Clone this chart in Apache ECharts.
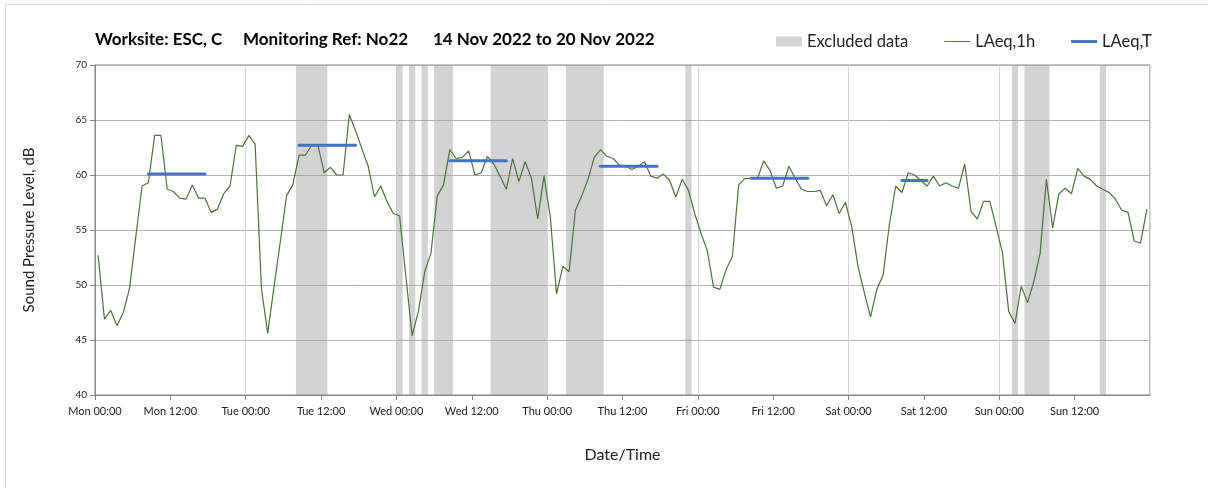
<!DOCTYPE html>
<html lang="en">
  <head>
    <meta charset="UTF-8" />
    <title>Noise monitoring N022</title>
    <script src="https://cdn.jsdelivr.net/npm/echarts@6/dist/echarts.min.js"></script>
    <style>
      html, body { margin: 0; padding: 0; background: #fff; }
    </style>
  </head>

  <body>
    <div id="main" style="width: 1208px; height: 488px"></div>

    <script type="text/javascript">
      // hourly LAeq,1h values, Mon 00:00 .. Sun 23:00 (168 hours)
      const laeq1h = [
        52.7, 46.9, 47.7, 46.3, 47.5, 49.7, 54.4, 59.0, 59.3, 63.6, 63.6, 58.7,
        58.5, 57.9, 57.8, 59.1, 57.9, 57.9, 56.6, 56.9, 58.3, 59.0, 62.7, 62.6,
        63.6, 62.8, 49.7, 45.6, 49.8, 53.9, 58.1, 59.1, 61.8, 61.8, 62.7, 62.7,
        60.2, 60.7, 60.0, 60.0, 65.5, 64.0, 62.4, 60.8, 58.0, 59.0, 57.6, 56.5,
        56.3, 50.8, 45.4, 47.6, 51.2, 52.9, 58.1, 59.1, 62.3, 61.5, 61.6, 62.2,
        60.0, 60.2, 61.7, 61.0, 59.9, 58.7, 61.5, 59.4, 61.2, 59.7, 56.0, 59.9,
        56.2, 49.2, 51.7, 51.2, 56.8, 58.1, 59.6, 61.6, 62.3, 61.7, 61.5, 60.9,
        60.8, 60.5, 60.8, 61.2, 59.9, 59.7, 60.1, 59.5, 58.0, 59.6, 58.6, 56.5,
        54.7, 53.1, 49.8, 49.6, 51.4, 52.6, 59.1, 59.7, 59.7, 59.7, 61.3, 60.4,
        58.8, 59.0, 60.8, 59.7, 58.7, 58.5, 58.5, 58.6, 57.2, 58.2, 56.5, 57.5,
        55.3, 51.7, 49.3, 47.1, 49.6, 50.9, 55.5, 59.0, 58.4, 60.2, 60.0, 59.5,
        59.0, 59.9, 59.0, 59.3, 59.0, 58.8, 61.0, 56.7, 56.0, 57.6, 57.6, 55.3,
        52.9, 47.6, 46.5, 49.9, 48.4, 50.3, 52.9, 59.6, 55.2, 58.3, 58.8, 58.3,
        60.6, 59.9, 59.6, 59.0, 58.7, 58.4, 57.8, 56.8, 56.6, 54.0, 53.8, 56.9
      ];

      // LAeq,T periods (first and last hour included)
      const periodStart = [8, 32, 56, 80, 104, 128];
      const periodEnd = [17, 41, 65, 89, 113, 132];
      const periodLevel = [60.1, 62.7, 61.3, 60.8, 59.7, 59.5];

      // excluded data, in hours from Mon 00:00
      const excludedStart = [32, 48, 50, 52, 54, 63, 75, 94, 146, 148, 160];
      const excludedEnd = [37, 49, 51, 53, 57, 72, 81, 95, 147, 152, 161];

      const dayNames = ["Mon", "Tue", "Wed", "Thu", "Fri", "Sat", "Sun"];

      const fontName = "Lato";
      const axisGrey = "#868686";

      let myChart = echarts.init(document.getElementById("main"));

      // one series per LAeq,T period so the segments stay apart
      let periodSeries = periodStart.map((s, i) => ({
        name: "LAeq,T",
        type: "line",
        symbol: "none",
        z: 4,
        itemStyle: { color: "#4472c4" },
        lineStyle: { color: "#4472c4", width: 3, cap: "round" },
        data: [
          [s + 0.5, periodLevel[i]],
          [periodEnd[i] + 0.5, periodLevel[i]],
        ],
      }));

      let options = {
        animation: false,
        textStyle: { fontFamily: fontName },
        title: {
          text: "Worksite: ESC, C     Monitoring Ref: No22      14 Nov 2022 to 20 Nov 2022",
          left: 90,
          top: 26,
          textStyle: { fontSize: 17, fontWeight: "bold", color: "#000", fontFamily: fontName },
        },
        legend: {
          left: 771,
          top: 28,
          itemWidth: 26,
          itemHeight: 10,
          itemGap: 36,
          textStyle: { fontSize: 16.5, color: "#222", fontFamily: fontName },
          data: [
            { name: "Excluded data", icon: "rect" },
            { name: "LAeq,1h", icon: "path://M0,0H27V1H0Z" },
            { name: "LAeq,T", icon: "path://M0,0H27V3H0Z" },
          ],
        },
        graphic: [
          {
            type: "rect",
            silent: true,
            z: -10,
            shape: { x: 5.5, y: 4.5, width: 1400, height: 700 },
            style: { fill: null, stroke: "#d9d9d9", lineWidth: 1 },
          },
        ],
        grid: {
          left: 95,
          right: 58,
          top: 65,
          bottom: 93,
          show: true,
          borderColor: axisGrey,
          borderWidth: 1,
        },
        xAxis: [
          {
            type: "value",
            min: 0,
            max: 168,
            interval: 12,
            name: "Date/Time",
            nameLocation: "middle",
            nameGap: 52,
            nameTextStyle: { fontSize: 16, color: "#222", fontFamily: fontName },
            axisLine: { lineStyle: { color: axisGrey } },
            axisTick: { length: 5, lineStyle: { color: axisGrey } },
            splitLine: { show: false },
            axisLabel: {
              fontSize: 11,
              color: "#222",
              margin: 11,
              showMaxLabel: false,
              formatter: (v) => {
                let d = dayNames[Math.floor(v / 24) % 7];
                let h = v % 24;
                return d + " " + (h < 10 ? "0" + h : h) + ":00";
              },
            },
          },
          {
            // day boundaries
            type: "value",
            min: 0,
            max: 168,
            interval: 24,
            axisLine: { show: false },
            axisTick: { show: false },
            axisLabel: { show: false },
            splitLine: { show: true, lineStyle: { color: "#d9d9d9" } },
          },
        ],
        yAxis: {
          type: "value",
          min: 40,
          max: 70,
          interval: 5,
          name: "Sound Pressure Level, dB",
          nameLocation: "middle",
          nameGap: 58,
          nameTextStyle: { fontSize: 15, color: "#222", fontFamily: fontName },
          axisLine: { show: true, lineStyle: { color: axisGrey } },
          axisTick: { show: true, length: 5, lineStyle: { color: axisGrey } },
          axisLabel: { fontSize: 10, color: "#222", margin: 8 },
          splitLine: { lineStyle: { color: "#b3b3b3" } },
        },
        series: [
          {
            name: "Excluded data",
            type: "line",
            itemStyle: { color: "#d3d3d3" },
            data: [],
            markArea: {
              silent: true,
              itemStyle: { color: "rgba(150,150,150,0.42)" },
              data: excludedStart.map((s, i) => [{ xAxis: s }, { xAxis: excludedEnd[i] }]),
            },
          },
          {
            name: "LAeq,1h",
            type: "line",
            symbol: "none",
            z: 3,
            itemStyle: { color: "#52703a" },
            lineStyle: { color: "#52703a", width: 1.2 },
            data: laeq1h.map((v, i) => [i + 0.5, v]),
          },
          ...periodSeries,
        ],
      };

      myChart.setOption(options);
    </script>
  </body>
</html>
